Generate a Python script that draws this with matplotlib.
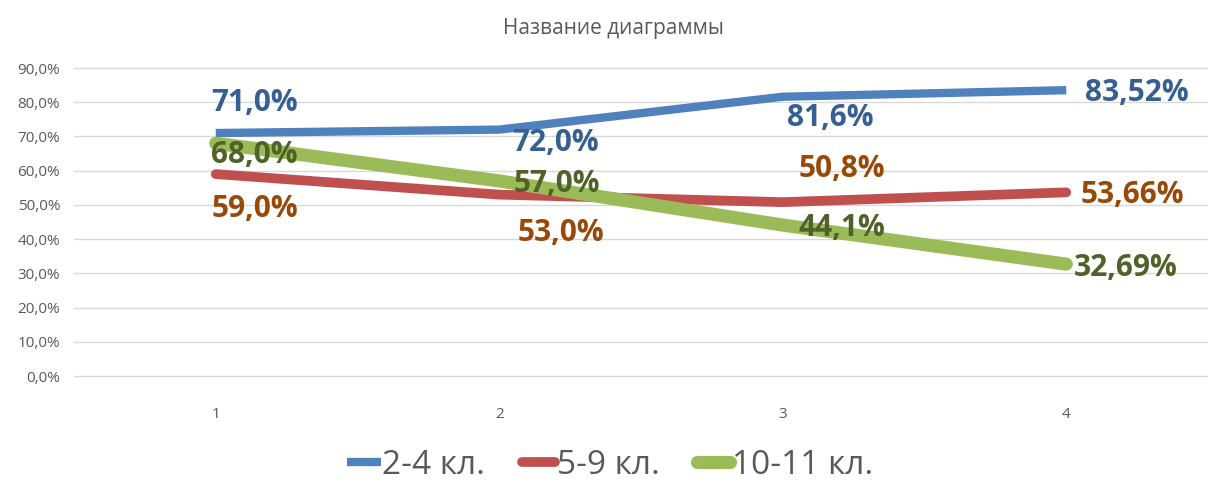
import matplotlib.pyplot as plt
from matplotlib.ticker import FuncFormatter

plt.rcParams['font.family'] = ['Open Sans', 'DejaVu Sans']

categories = [1, 2, 3, 4]
series_names = ['2-4 кл.', '5-9 кл.', '10-11 кл.']
s_24 = [0.71, 0.72, 0.816, 0.8352]
s_59 = [0.59, 0.53, 0.508, 0.5366]
s_1011 = [0.68, 0.57, 0.441, 0.3269]
label_decimals = [1, 1, 1, 2]
y_ticks = [0.0, 0.1, 0.2, 0.3, 0.4, 0.5, 0.6, 0.7, 0.8, 0.9]

line_colors = ['#4F81BD', '#C0504D', '#9BBB59']
label_colors = ['#376092', '#984807', '#4F6228']
widths = [6, 7, 9.5]
caps = ['butt', 'round', 'round']
# label offsets in pixels (dx, dy) per series / point
offsets = [
    [(39, 30), (56, -13), (48, -21), (71, -3)],
    [(39, -35), (62, -38), (59, 33), (66, -3)],
    [(39, -12), (58, -3), (59, -3), (59, -4)],
]

fig = plt.figure(figsize=(12.08, 4.82), dpi=100)
ax = fig.add_axes([74 / 1208, 1 - 376 / 482, 1134 / 1208, 308 / 482])

for i, ys in enumerate([s_24, s_59, s_1011]):
    ax.plot(categories, ys, color=line_colors[i], lw=widths[i],
            solid_capstyle=caps[i], solid_joinstyle='round',
            label=series_names[i], zorder=2 + i)
    for j, (x, y) in enumerate(zip(categories, ys)):
        txt = '{:.{d}f}%'.format(y * 100, d=label_decimals[j]).replace('.', ',')
        ax.annotate(txt, (x, y), xytext=offsets[i][j], textcoords='offset pixels',
                    ha='center', va='center', fontsize=21.5, fontweight='bold',
                    color=label_colors[i], zorder=10)

ax.set_xlim(0.5, 4.5)
ax.set_ylim(0, 0.9)
ax.set_yticks(y_ticks)
ax.yaxis.set_major_formatter(FuncFormatter(lambda v, p: '{:.1f}%'.format(v * 100).replace('.', ',')))
ax.set_xticks(categories)
ax.grid(axis='y', color='#D9D9D9', lw=1)
for gl in ax.get_ygridlines():
    gl.set_clip_on(False)
ax.set_axisbelow(True)
for s in ax.spines.values():
    s.set_visible(False)
ax.tick_params(length=0, colors='#595959')
ax.tick_params(axis='y', labelsize=11, pad=10)
ax.tick_params(axis='x', labelsize=11, pad=22)

fig.text(0.508, 0.94, 'Название диаграммы', ha='center', va='center',
         fontsize=15, color='#595959')

leg = fig.legend(loc='center', bbox_to_anchor=(0.505, 0.035), ncol=3, frameon=False,
                 fontsize=24, handlelength=1.0, handletextpad=0.05, columnspacing=1.1)
for t in leg.get_texts():
    t.set_color('#595959')

fig.savefig('out.png', dpi=100)
